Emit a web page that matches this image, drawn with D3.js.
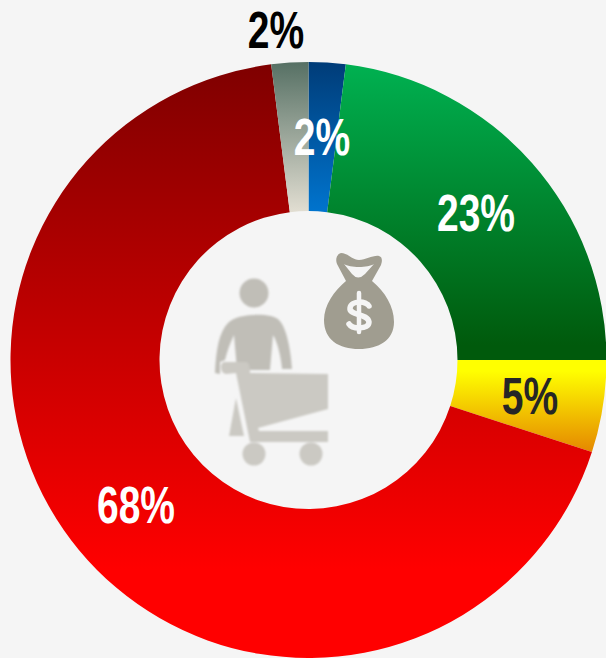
<!DOCTYPE html>
<html><head><meta charset="utf-8">
<script src="https://cdn.jsdelivr.net/npm/d3@7"></script>
<style>html,body{margin:0;padding:0;background:#f5f5f5;overflow:hidden}svg{display:block}</style>
</head><body><svg id="c" width="606" height="658"></svg>
<script>
const categories = ["Blue","Green","Yellow","Red","Grey"];
const values = [2,23,5,68,2];
const labels = ["2%","23%","5%","68%","2%"];
const topColors = ["#003c78","#00b151","#ffff00","#7f0000","#567064"];
const bottomColors = ["#0074ce","#005a0c","#e58700","#ff0000","#e2ded2"];
const topStops = [0,0,0.12,0,0];
const bottomStops = [1,0.95,1,0.85,1];
const labelColors = ["#ffffff","#ffffff","#262626","#ffffff","#000000"];
const labelPos = [[322,136.5],[476,212.5],[530,395.5],[136,504.5],[276,29]];

const svg = d3.select("#c");
const cx = 308.5, cy = 360, R = 298, r = 149;
const defs = svg.append("defs");
categories.forEach((c,i)=>{
  const g = defs.append("linearGradient").attr("id","g"+i).attr("x1",0).attr("y1",0).attr("x2",0).attr("y2",1);
  g.append("stop").attr("offset",topStops[i]).attr("stop-color",topColors[i]);
  g.append("stop").attr("offset",bottomStops[i]).attr("stop-color",bottomColors[i]);
});
defs.append("filter").attr("id","soft").append("feGaussianBlur").attr("stdDeviation",0.8);
const pie = d3.pie().sort(null).value(d=>d);
const arc = d3.arc().innerRadius(r).outerRadius(R);
const root = svg.append("g").attr("transform",`translate(${cx},${cy})`);
root.selectAll("path").data(pie(values)).join("path")
  .attr("d",arc).attr("fill",(d,i)=>`url(#g${i})`);

// Icons
const icons = svg.append("g").attr("filter","url(#soft)");
const person = "#c0beb7", cart = "#cbc9c3", bag = "#a09d90";
icons.append("circle").attr("cx",254).attr("cy",293).attr("r",14.5).attr("fill",person);
icons.append("path").attr("fill",person).attr("d","M215 373 C216 350 219 332 228 323 C236 313 272 312 279 320 C287 328 291 352 292 369 L282 369 C281 358 278 343 273 335 L270 370 L237 370 L234 335 C230 343 227 352 225 360 L220 362 L220 374 Z");
icons.append("path").attr("fill",cart).attr("d","M225 362 L246 362 Q250 362 250 373 L328 374 L328 409 L258 428 L259 431 L328 431 L328 442 L250 442 L236 373 L226 374 Q221 373 221 367 Q221 362 225 362 Z");
icons.append("path").attr("fill",cart).attr("d","M236 398 L244 436 L229 436 Z");
icons.append("circle").attr("cx",254).attr("cy",454).attr("r",11.5).attr("fill",cart);
icons.append("circle").attr("cx",311).attr("cy",454).attr("r",11.5).attr("fill",cart);
const bagG = svg.append("g");
bagG.append("path").attr("fill",bag).attr("fill-rule","evenodd").attr("d","M341 253 C348 253 352 260 359 260 C366 260 373 255 379 256 C383 257 382 262 381 265 L372 281 C385 292 394 306 394 322 C394 340 379 349 359 349 C339 349 324 340 324 320 C324 305 334 291 346 281 L337 264 C335 259 337 254 341 253 Z M344 264 L352 274 Q358 281 365 274 L374 264 C368 268 350 268 344 264 Z");
bagG.append("path").attr("fill","none").attr("stroke","#f5f5f5").attr("stroke-width",5.5).attr("stroke-linecap","round").attr("d","M369 306 C367 301 351 300 350 308 C349 316 368 313 369 322 C369 330 352 329 349 324");
bagG.append("path").attr("fill","none").attr("stroke","#f5f5f5").attr("stroke-width",4.5).attr("stroke-linecap","round").attr("d","M359 293 L359 332");

// Labels (narrow condensed look: Liberation Sans squeezed horizontally)
svg.append("g").selectAll("text").data(labels).join("text")
  .attr("transform",(d,i)=>`translate(${labelPos[i][0]},${labelPos[i][1]}) scale(0.75,1)`)
  .attr("dy","0.36em").attr("text-anchor","middle")
  .attr("font-family","'Liberation Sans',sans-serif")
  .attr("font-weight",700).attr("font-size",52)
  .attr("fill",(d,i)=>labelColors[i]).text(d=>d);
</script></body></html>
